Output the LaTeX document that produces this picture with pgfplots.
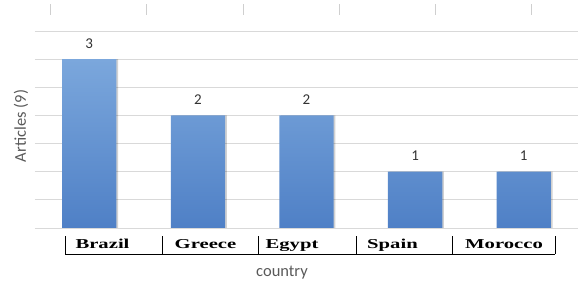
\documentclass[border=0pt]{standalone}
\usepackage{pgfplots}
\pgfplotsset{compat=1.18}
\usepackage{fontspec}
\setmainfont{Carlito}
\newfontfamily\catfont{Liberation Serif}
\definecolor{barTop}{HTML}{7BA7DC}
\definecolor{barBot}{HTML}{4F80C6}
\definecolor{gridgray}{HTML}{D9D9D9}
\definecolor{txtgray}{HTML}{595959}
\definecolor{tickgray}{HTML}{CFCFCF}

\begin{document}
\begin{tikzpicture}
\useasboundingbox (0pt,0pt) rectangle (583pt,286pt);
\begin{axis}[
  at={(35pt,58pt)}, anchor=south west,
  scale only axis, width=543pt, height=197pt,
  xmin=-0.5, xmax=4.5, ymin=0, ymax=3.5,
  ytick={0,0.5,...,3.5}, yticklabels={}, xtick=\empty,
  ymajorgrids, grid style={gridgray, line width=0.9pt},
  major tick length=0pt,
  axis line style={draw=none},
  bar width=0.5,
  /pgf/number format/assume math mode=true,
  clip=false,
]
% soft shadow behind the bars
\addplot[ybar, bar shift=0.016, draw=none, fill=black, fill opacity=0.18]
  coordinates {(0,3) (1,2) (2,2) (3,1) (4,1)};
% the bars with their values on top
\addplot[ybar, bar shift=0, draw=none, top color=barTop, bottom color=barBot,
  nodes near coords,
  every node near coord/.append style={font=\fontsize{15}{15}\selectfont, text=black!80, anchor=base, inner sep=0pt, yshift=11pt}]
  coordinates {(0,3) (1,2) (2,2) (3,1) (4,1)};
\end{axis}

% short marks along the top edge
\foreach \x in {50,146,243,339,435,531}
  \draw[tickgray, line width=0.8pt] (\x pt,271pt) -- (\x pt,282pt);

% category bracket under the bars
\draw[black, line width=0.8pt] (65pt,32pt) -- (555pt,32pt);
\foreach \x in {65,162,258,356,452,555}
  \draw[black, line width=0.8pt] (\x pt,32pt) -- (\x pt,50pt);
\foreach \x/\name in {102.5/Brazil,205.5/Greece,292/Egypt,392.5/Spain,504/Morocco}
  \node[xscale=1.52, font=\catfont\bfseries\fontsize{13.6}{14}\selectfont, anchor=base] at (\x pt,37pt) {\name};

% axis titles
\node[text=txtgray, font=\fontsize{16.5}{17}\selectfont] at (282pt,13pt) {country};
\node[text=txtgray, font=\fontsize{16.5}{17}\selectfont, rotate=90] at (21pt,160pt) {Articles (9)};
\end{tikzpicture}
\end{document}
